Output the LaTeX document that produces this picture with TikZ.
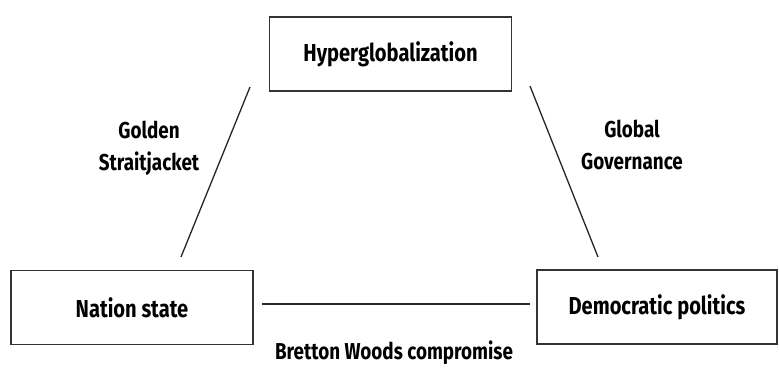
\documentclass[tikz,border=0pt]{standalone}
\usepackage{fontspec}
\setmainfont{Fira Sans}[FakeStretch=0.82]
\begin{document}
\begin{tikzpicture}[x=1pt,y=-1pt,
  box/.style={draw=black!80,line width=1.6pt,minimum width=242pt,minimum height=74pt,inner sep=0pt,font=\fontsize{24.5}{28}\selectfont\bfseries},
  lbl/.style={font=\fontsize{23}{32}\selectfont\bfseries,align=center,inner sep=0pt},
  link/.style={draw=black!85,line width=1.3pt}]
\useasboundingbox (0,0) rectangle (779,367);
\node[box] (hg) at (390.5,54) {Hyperglobalization};
\node[box] (ns) at (132,307.5) {Nation state};
\node[box,minimum width=240pt] (dp) at (657,307) {Democratic politics};
\coordinate (l1) at (250,87);
\coordinate (l2) at (181,257);
\coordinate (r1) at (530,86);
\coordinate (r2) at (598,257);
\coordinate (b1) at (262,304);
\coordinate (b2) at (530,304);
\draw[link] (l1) -- (l2);
\draw[link] (r1) -- (r2);
\draw[link] (b1) -- (b2);
\node[lbl] (gs) at (149,148) {Golden\\Straitjacket};
\node[lbl] (gg) at (632,145) {Global\\Governance};
\node[lbl] (bw) at (394,353) {Bretton Woods compromise};
\end{tikzpicture}
\end{document}
